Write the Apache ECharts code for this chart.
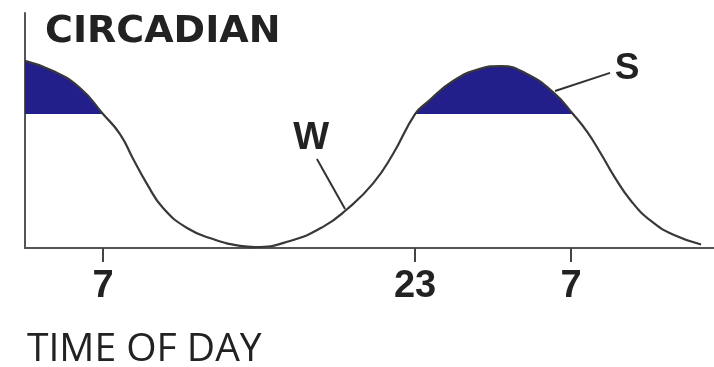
<!DOCTYPE html>
<html>
<head>
    <meta charset="utf-8">
    <title>Circadian</title>
    <script src="https://cdn.jsdelivr.net/npm/echarts@6.0.0/dist/echarts.min.js"></script>
</head>
<style>
    body { margin: 0; background: #fff; }
</style>
<body>
<div id="main" style="width: 714px; height: 367px;"></div>
<script>
// hours since midnight (continuing past 24) and circadian level
const hours = [3.0, 4.44, 5.82, 7.0, 7.87, 8.54, 9.26, 10.08, 11.31, 12.64, 14.03, 14.79, 16.59, 18.28, 19.51, 20.85, 21.87, 23.0, 23.62, 24.95, 26.33, 27.41, 28.74, 30.13, 31.1, 31.82, 32.54, 33.21, 34.08, 35.1, 36.28, 37.67];
const level = [79.6, 75.3, 68.1, 57.0, 48.5, 38.0, 27.2, 17.0, 8.5, 3.8, 0.9, 0.4, 3.0, 9.0, 16.5, 27.5, 40.0, 57.0, 62.0, 71.1, 76.2, 77.4, 74.0, 65.9, 57.0, 49.5, 40.0, 30.5, 20.0, 11.5, 5.5, 1.5];
const tickHours = [7, 23, 31];
const sleepLevel = 57;

const curve = hours.map((h, i) => [h, level[i]]);

let myChart = echarts.init(document.getElementById('main'));

myChart.setOption({
    animation: false,
    title: [
        { text: 'CIRCADIAN', left: 40, top: 8, textStyle: { fontFamily: 'DejaVu Sans', fontWeight: 'bold', fontSize: 38, color: '#222' } },
        { text: 'TIME OF DAY', left: 22, top: 325, textStyle: { fontFamily: 'Open Sans', fontWeight: 'normal', fontSize: 39, color: '#222' } }
    ],
    grid: { left: 25, right: 0, top: 13, bottom: 119 },
    visualMap: {
        show: false, type: 'piecewise', seriesIndex: 0, dimension: 1,
        pieces: [
            { gte: sleepLevel, lte: 100, color: '#231f8a' },
            { gte: 0, lt: sleepLevel, color: 'rgba(255,255,255,0)' }
        ],
        outOfRange: { color: 'rgba(255,255,255,0)' }
    },
    xAxis: {
        type: 'value', min: 3, max: 38.33,
        axisLine: { lineStyle: { color: '#555', width: 2 } },
        axisTick: { customValues: tickHours, length: 14, lineStyle: { color: '#444', width: 2 } },
        axisLabel: {
            customValues: tickHours, formatter: v => String(v % 24), margin: 20,
            fontFamily: "'Liberation Sans Narrow', 'Liberation Sans', sans-serif", fontWeight: 'bold', fontSize: 38, color: '#222'
        },
        splitLine: { show: false }
    },
    yAxis: {
        type: 'value', min: 0, max: 100,
        axisLine: { show: true, lineStyle: { color: '#555', width: 2 } },
        axisTick: { show: false }, axisLabel: { show: false }, splitLine: { show: false }
    },
    series: [
        {
            type: 'line', data: curve, smooth: 0.5, symbol: 'none',
            lineStyle: { width: 0 }, areaStyle: { opacity: 1 }
        },
        {
            type: 'line', data: curve, smooth: 0.5, symbol: 'none', z: 5,
            lineStyle: { color: '#383838', width: 2.2 },
            markLine: {
                silent: true, symbol: 'none', label: { show: false },
                lineStyle: { color: '#333', width: 2, type: 'solid' },
                data: [
                    [{ coord: [17.97, 37.9] }, { coord: [19.41, 16.6] }],
                    [{ coord: [30.18, 66.8] }, { coord: [33.0, 74.5] }]
                ]
            },
            markPoint: {
                symbol: 'circle', symbolSize: 0,
                label: { show: true, position: 'inside', fontFamily: 'Liberation Sans', fontWeight: 'bold', color: '#222' },
                data: [
                    { coord: [17.67, 46.8], label: { formatter: 'W', fontSize: 38 } },
                    { coord: [33.87, 76.2], label: { formatter: 'S', fontSize: 37 } }
                ]
            }
        }
    ]
});
</script>
</body>
</html>
